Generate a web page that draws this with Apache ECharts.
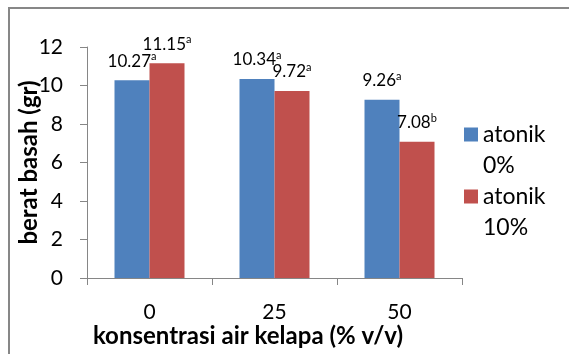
<!DOCTYPE html>
<html>
<head>
<meta charset="utf-8">
<script src="https://cdn.jsdelivr.net/npm/echarts@6/dist/echarts.min.js"></script>
<style>
  html, body { margin: 0; padding: 0; background: #fff; }
  #chart { width: 569px; height: 354px; }
</style>
</head>
<body>
<div id="chart"></div>
<script>
// Coconut-water concentration groups (% v/v)
const categories = ['0', '25', '50'];
// Fresh weight (gr) for each atonik level
const atonik0 = [10.27, 10.34, 9.26];
const atonik10 = [11.15, 9.72, 7.08];
// Significance letters shown beside each value
const letters0 = ['a', 'a', 'a'];
const letters10 = ['a', 'a', 'b'];
const seriesNames = ['atonik\n0%', 'atonik\n10%'];

const FONT = 'Lato, "Liberation Sans", sans-serif';
const AXIS_GREY = '#868686';

function valueLabel(letters) {
  return {
    show: true,
    position: 'top',
    distance: 9,
    formatter: p => '{v|' + p.value.toFixed(2) + '}{s|' + letters[p.dataIndex] + '}',
    rich: {
      v: { fontFamily: FONT, fontSize: 17, color: '#000', lineHeight: 20 },
      s: { fontFamily: FONT, fontSize: 11, color: '#000', verticalAlign: 'top', lineHeight: 12 }
    }
  };
}

const chart = echarts.init(document.getElementById('chart'), null, { renderer: 'canvas' });
chart.setOption({
  animation: false,
  textStyle: { fontFamily: FONT },
  graphic: [
    // chart-area frame; its right and bottom edges run past the page
    { type: 'rect', z: 100, silent: true,
      shape: { x: 9, y: 8, width: 620, height: 400 },
      style: { fill: 'none', stroke: '#878787', lineWidth: 2 } }
  ],
  grid: { left: 87, right: 107, top: 47, bottom: 76, containLabel: false, outerBoundsMode: 'none' },
  legend: {
    orient: 'vertical',
    left: 464,
    top: 88,
    padding: 0,
    itemWidth: 14,
    itemHeight: 14,
    itemGap: -31,
    icon: 'rect',
    // a blank first line keeps the swatch level with the word "atonik"
    formatter: name => '\u00a0\n' + name,
    textStyle: {
      fontFamily: FONT, fontSize: 23, color: '#000', lineHeight: 31
    },
    data: seriesNames
  },
  xAxis: {
    type: 'category',
    data: categories,
    axisLine: { lineStyle: { color: AXIS_GREY, width: 1 } },
    axisTick: { show: true, length: 7, lineStyle: { color: AXIS_GREY } },
    axisLabel: { fontFamily: FONT, fontSize: 21, color: '#000', margin: 24 },
    name: 'konsentrasi air kelapa (% v/v)',
    nameLocation: 'middle',
    nameGap: 46,
    nameMoveOverlap: false,
    nameTextStyle: {
      fontFamily: FONT, fontSize: 24, fontWeight: 'bold', color: '#000',
      padding: [0, 53, 0, 0]
    }
  },
  yAxis: {
    type: 'value',
    min: 0,
    max: 12,
    interval: 2,
    axisLine: { show: true, lineStyle: { color: AXIS_GREY, width: 1 } },
    axisTick: { show: true, length: 7, lineStyle: { color: AXIS_GREY } },
    splitLine: { show: false },
    axisLabel: { fontFamily: FONT, fontSize: 21, color: '#000', margin: 24 },
    name: 'berat basah (gr)',
    nameLocation: 'middle',
    nameGap: 46,
    nameMoveOverlap: false,
    nameTextStyle: { fontFamily: FONT, fontSize: 24, fontWeight: 'bold', color: '#000' }
  },
  series: [
    {
      name: seriesNames[0],
      type: 'bar',
      data: atonik0,
      barWidth: 35,
      barGap: '0%',
      itemStyle: { color: '#4F81BD' },
      label: valueLabel(letters0)
    },
    {
      name: seriesNames[1],
      type: 'bar',
      data: atonik10,
      barWidth: 35,
      barGap: '0%',
      itemStyle: { color: '#C0504D' },
      label: valueLabel(letters10)
    }
  ]
});
</script>
</body>
</html>
